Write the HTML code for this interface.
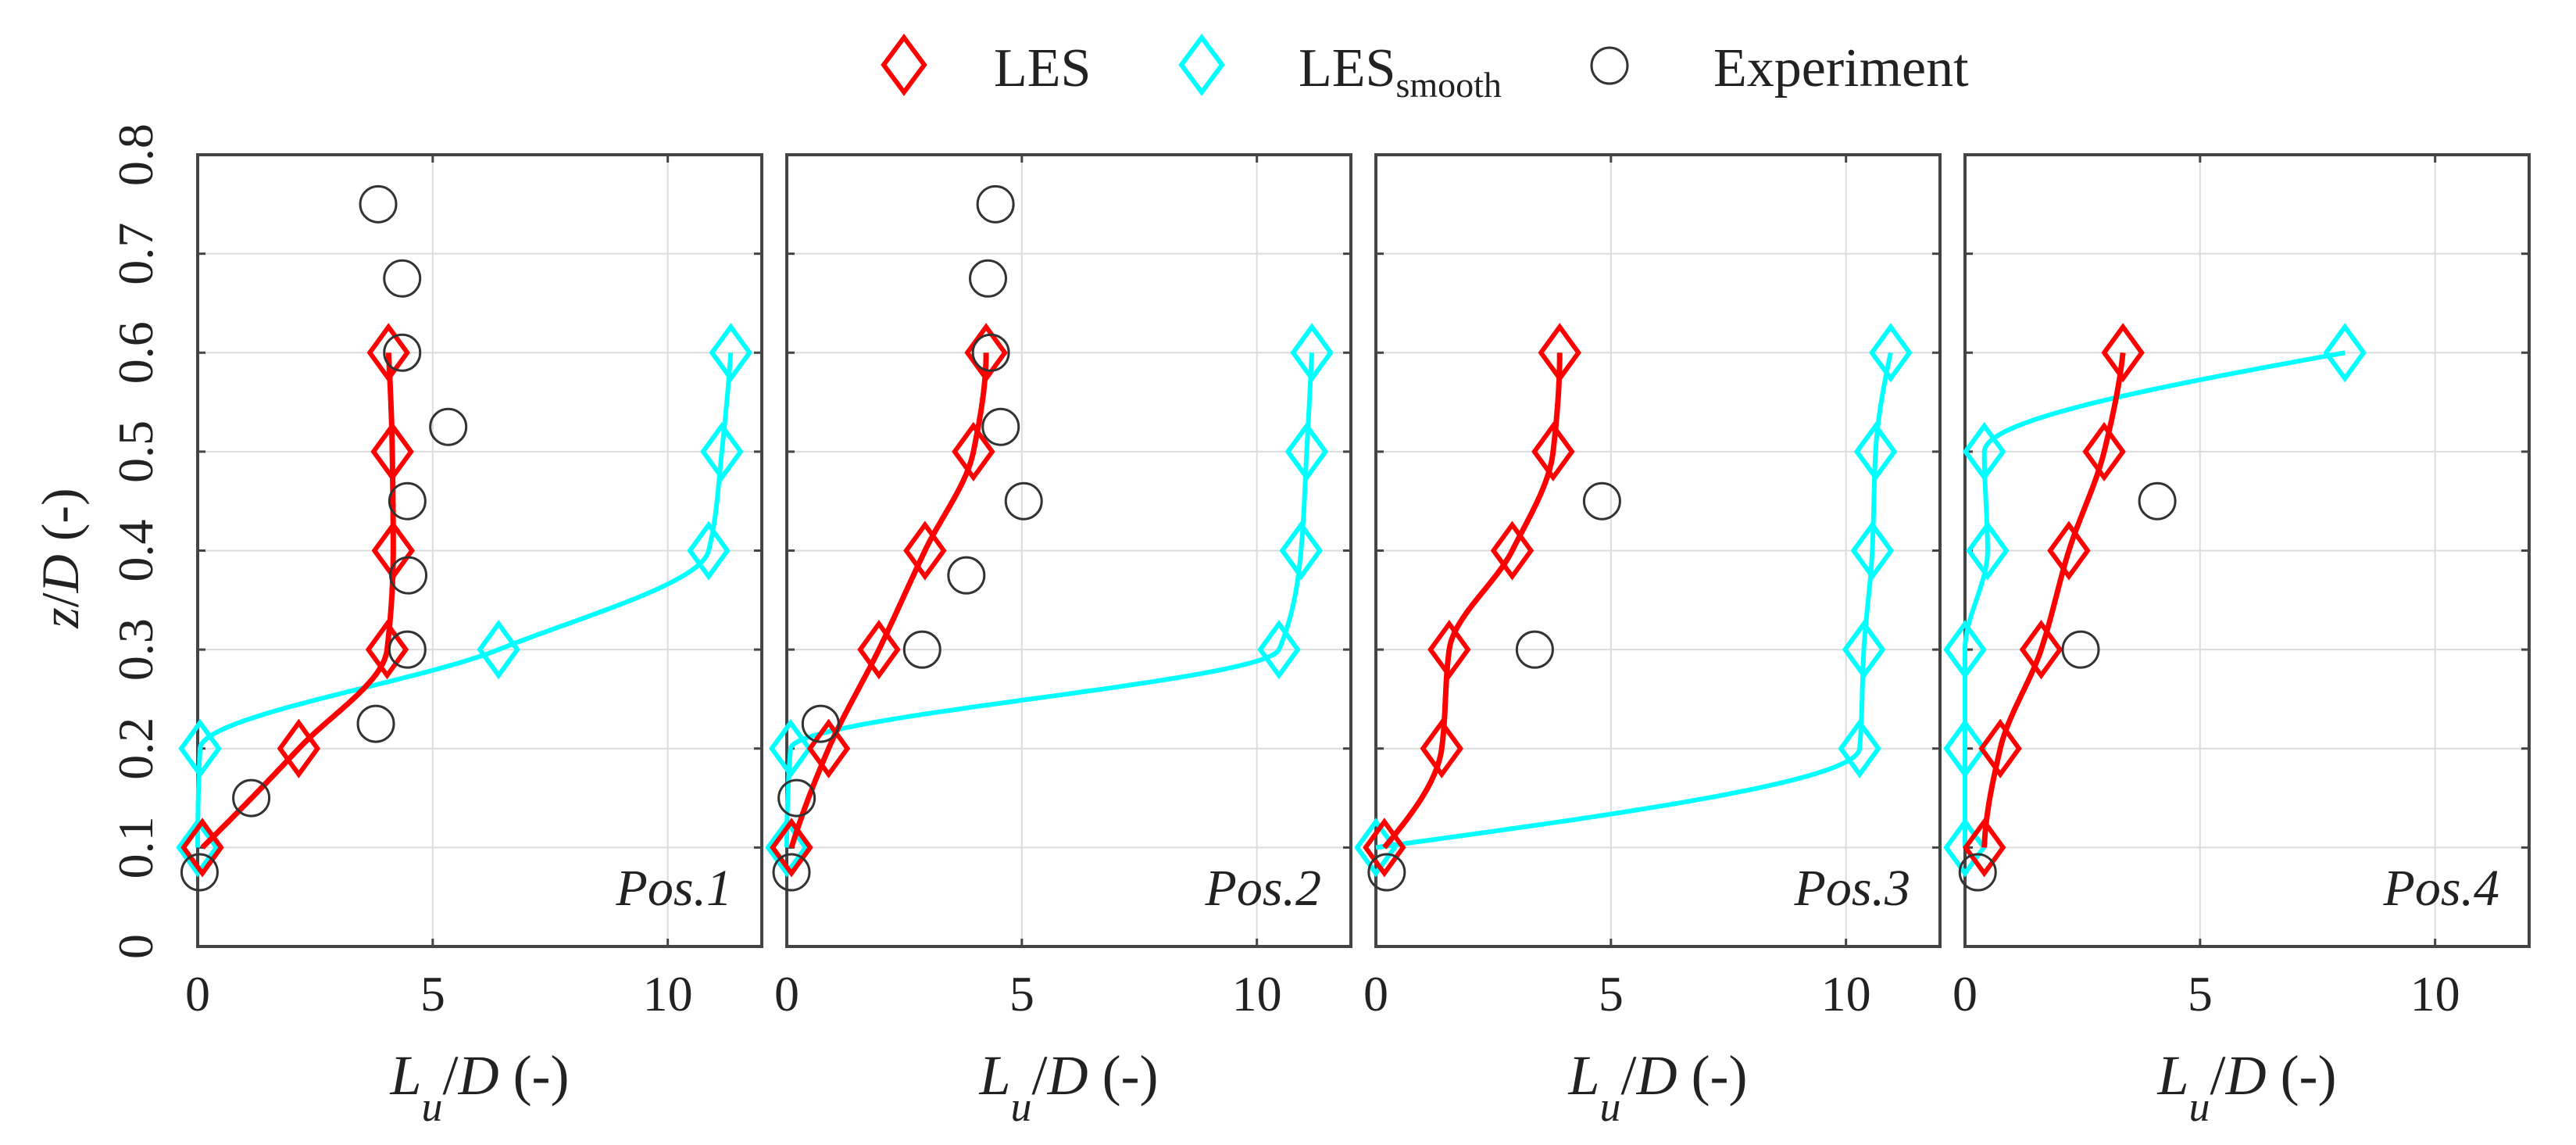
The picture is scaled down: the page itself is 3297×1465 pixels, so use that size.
<!DOCTYPE html>
<html><head><meta charset="utf-8"><style>
html,body{margin:0;padding:0;background:#fff;width:3297px;height:1465px;overflow:hidden}
svg{display:block}
text{font-family:"Liberation Serif",serif;fill:#222}
</style></head><body>
<svg id="chart" width="3297" height="1465" viewBox="0 0 3297 1465" xmlns="http://www.w3.org/2000/svg">
<g id="legend">
  <g>
    <polygon points="1157,48 1183,83 1157,118 1131,83" fill="none" stroke="#ff0000" stroke-width="6"/>
    <text x="1272" y="110" font-size="70">LES</text>
  </g>
  <g>
    <polygon points="1538,48 1564,83 1538,118 1512,83" fill="none" stroke="#00ffff" stroke-width="6"/>
    <text x="1662" y="110" font-size="70">LES<tspan font-size="46" dy="14">smooth</tspan></text>
  </g>
  <g>
    <circle cx="2060" cy="84" r="23" fill="none" stroke="#333" stroke-width="3"/>
    <text x="2193" y="110" font-size="70">Experiment</text>
  </g>
</g>
<text transform="translate(100,714) rotate(-90)" text-anchor="middle" font-size="68"><tspan font-style="italic">z</tspan>/<tspan font-style="italic">D</tspan> (-)</text>
<g id="panels"></g>
</svg>
<script>
const zLevels = [0.1, 0.2, 0.3, 0.4, 0.5, 0.6];
const expZ = [0.075, 0.15, 0.225, 0.3, 0.375, 0.45, 0.525, 0.6, 0.675, 0.75];
const expZShort = [0.075, 0.3, 0.45];
const panelLabels = ["Pos.1", "Pos.2", "Pos.3", "Pos.4"];
const lesPos1 = [0.1, 2.15, 4.03, 4.16, 4.14, 4.06];
const lesPos2 = [0.1, 0.89, 1.96, 2.94, 3.97, 4.24];
const lesPos3 = [0.18, 1.4, 1.56, 2.9, 3.77, 3.91];
const lesPos4 = [0.41, 0.75, 1.62, 2.21, 2.96, 3.36];
const smoothPos1 = [0.0, 0.05, 6.4, 10.87, 11.15, 11.34];
const smoothPos2 = [0.0, 0.08, 10.47, 10.94, 11.06, 11.17];
const smoothPos3 = [0.0, 10.29, 10.38, 10.56, 10.63, 10.95];
const smoothPos4 = [0.0, 0.0, 0.0, 0.48, 0.41, 8.08];
const expPos1 = [0.04, 1.14, 3.79, 4.46, 4.48, 4.46, 5.33, 4.35, 4.35, 3.84];
const expPos2 = [0.1, 0.21, 0.72, 2.88, 3.82, 5.04, 4.55, 4.34, 4.28, 4.44];
const expPos3 = [0.23, 3.38, 4.81];
const expPos4 = [0.27, 2.46, 4.09];
const xTicks = [0, 5, 10];
const yTicks = [0, 0.1, 0.2, 0.3, 0.4, 0.5, 0.6, 0.7, 0.8];

const panelLeft = [253, 1007, 1761, 2515];
const PW = 722, TOP = 198, BOT = 1211, XMAX = 12, ZMAX = 0.8;
const NS = "http://www.w3.org/2000/svg";
const root = document.getElementById("panels");
function mk(tag, attrs, parent) {
  const e = document.createElementNS(NS, tag);
  for (const k in attrs) e.setAttribute(k, attrs[k]);
  (parent || root).appendChild(e);
  return e;
}
function yS(z) { return BOT - (z / ZMAX) * (BOT - TOP); }
// monotone (pchip) interpolation of x as a function of z
function pchipSlopes(zs, xs) {
  const n = zs.length, h = [], d = [], m = new Array(n);
  for (let i = 0; i < n - 1; i++) { h.push(zs[i + 1] - zs[i]); d.push((xs[i + 1] - xs[i]) / h[i]); }
  for (let i = 1; i < n - 1; i++) {
    if (d[i - 1] * d[i] <= 0) m[i] = 0;
    else {
      const w1 = 2 * h[i] + h[i - 1], w2 = h[i] + 2 * h[i - 1];
      m[i] = (w1 + w2) / (w1 / d[i - 1] + w2 / d[i]);
    }
  }
  function endS(h0, h1, d0, d1) {
    let s = ((2 * h0 + h1) * d0 - h0 * d1) / (h0 + h1);
    if (s * d0 <= 0) s = 0;
    else if (d0 * d1 <= 0 && Math.abs(s) > Math.abs(3 * d0)) s = 3 * d0;
    return s;
  }
  m[0] = endS(h[0], h[1], d[0], d[1]);
  m[n - 1] = endS(h[n - 2], h[n - 3], d[n - 2], d[n - 3]);
  return m;
}
function pchipPath(xs, xS) {
  const zs = zLevels, m = pchipSlopes(zs, xs);
  let d = "";
  for (let i = 0; i < zs.length - 1; i++) {
    const h = zs[i + 1] - zs[i];
    for (let k = 0; k <= 40; k++) {
      if (i > 0 && k === 0) continue;
      const t = k / 40;
      const h00 = 2*t*t*t - 3*t*t + 1, h10 = t*t*t - 2*t*t + t, h01 = -2*t*t*t + 3*t*t, h11 = t*t*t - t*t;
      const x = h00 * xs[i] + h10 * h * m[i] + h01 * xs[i + 1] + h11 * h * m[i + 1];
      const z = zs[i] + t * h;
      d += (d ? " L" : "M") + xS(x).toFixed(1) + "," + yS(z).toFixed(1);
    }
  }
  return d;
}
const les = [lesPos1, lesPos2, lesPos3, lesPos4];
const smooth = [smoothPos1, smoothPos2, smoothPos3, smoothPos4];
const exps = [expPos1, expPos2, expPos3, expPos4];
const expZs = [expZ, expZ, expZShort, expZShort];

for (let p = 0; p < 4; p++) {
  const L = panelLeft[p];
  const xS = v => L + (v / XMAX) * PW;
  const g = mk("g", {});
  
  
  yTicks.forEach(t => {
    if (t > 0 && t < ZMAX) {
      const ln = mk("line", {x1: L, x2: L + PW, y1: yS(t), y2: yS(t), stroke: "#dcdcdc", "stroke-width": 2}, g);
      
      
      mk("line", {x1: L, x2: L + 10, y1: yS(t), y2: yS(t), stroke: "#444", "stroke-width": 3}, g);
      mk("line", {x1: L + PW - 10, x2: L + PW, y1: yS(t), y2: yS(t), stroke: "#444", "stroke-width": 3}, g);
    }
  });
  xTicks.forEach(t => {
    if (t > 0) {
      const ln = mk("line", {x1: xS(t), x2: xS(t), y1: TOP, y2: BOT, stroke: "#dcdcdc", "stroke-width": 2}, g);
      
      
      mk("line", {x1: xS(t), x2: xS(t), y1: TOP, y2: TOP + 10, stroke: "#444", "stroke-width": 3}, g);
      mk("line", {x1: xS(t), x2: xS(t), y1: BOT - 10, y2: BOT, stroke: "#444", "stroke-width": 3}, g);
    }
    const tl = mk("text", {x: xS(t), y: 1293, "text-anchor": "middle", "font-size": 64}, g);
    tl.textContent = t;
    
    
  });
  const fr = mk("rect", {x: L, y: TOP, width: PW, height: BOT - TOP, fill: "none", stroke: "#444", "stroke-width": 4}, g);
  
  
  const xt = mk("text", {x: L + PW / 2, y: 1400, "text-anchor": "middle", "font-size": 72}, g);
  xt.innerHTML = '<tspan font-style="italic">L</tspan><tspan font-style="italic" font-size="54" dy="34">u</tspan><tspan dy="-34">/</tspan><tspan font-style="italic">D</tspan> (-)';
  
  
  const pl = mk("text", {x: L + PW - 38, y: 1158, "text-anchor": "end", "font-size": 66, "font-style": "italic"}, g);
  pl.textContent = panelLabels[p];
  
  
  const series = [[smooth[p], "#00ffff", 6, 'les-smooth'], [les[p], "#ff0000", 7, 'les']];
  series.forEach(([vals, col, w, nm]) => {
    const path = mk("path", {d: pchipPath(vals, xS), fill: "none", stroke: col, "stroke-width": w, "stroke-linejoin": "round"}, g);
    
    
    vals.forEach((v, i) => {
      const px = xS(v), py = yS(zLevels[i]);
      const dm = mk("polygon", {points: `${px},${py - 33} ${px + 24},${py} ${px},${py + 33} ${px - 24},${py}`, fill: "none", stroke: col, "stroke-width": 6}, g);
      
      
    });
  });
  exps[p].forEach((v, i) => {
    const c = mk("circle", {cx: xS(v), cy: yS(expZs[p][i]), r: 23, fill: "none", stroke: "#333", "stroke-width": 3}, g);
    
    
  });
}
yTicks.forEach(t => {
  const tl = mk("text", {transform: `translate(195,${yS(t)}) rotate(-90)`, "text-anchor": "middle", "font-size": 64});
  tl.textContent = t;
  
  
});
</script>
</body></html>
